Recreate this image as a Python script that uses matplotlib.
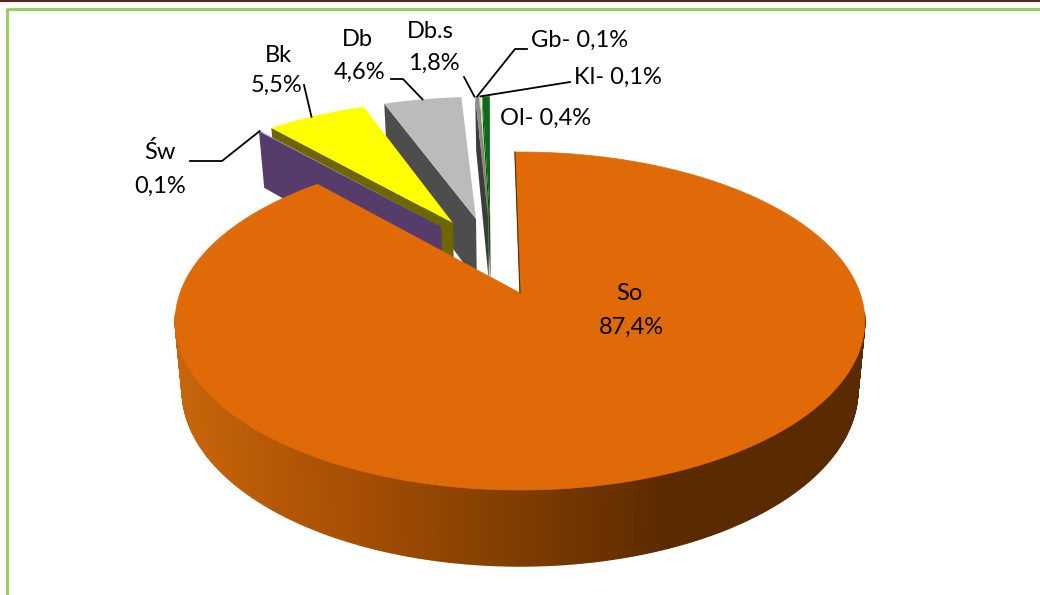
import numpy as np
import matplotlib
matplotlib.use('Agg')
import matplotlib.pyplot as plt
from matplotlib.colors import LinearSegmentedColormap

plt.rcParams['font.family'] = ['Lato', 'DejaVu Sans']

names = ['So', 'Św', 'Bk', 'Db', 'Db.s', 'Gb', 'Kl', 'Ol']
values = [87.4, 0.1, 5.5, 4.6, 1.8, 0.1, 0.1, 0.4]
value_labels = ['87,4%', '0,1%', '5,5%', '4,6%', '1,8%', '0,1%', '0,1%', '0,4%']

top_colors = ['#E06A07', '#B08FD0', '#FFFF00', '#BBBBBB', '#FFFFFF', '#8C8C8C', '#DDE5A0', '#0B6A1A']
side_colors = ['#5A2A00', '#563C6B', '#6E6600', '#4D4D4D', '#FFFFFF', '#3C3C3C', '#7A7F50', '#0A4A12']
layer = [20, 9, 8, 7, 1, 5, 4, 3]

# perspective of the disc, fitted to the reference
cx, y0, A, k, p = 520, 293, 340, -0.1657, 115.8
explode = 0.24
back_lift = 0.03


def project(u, v, z=0.0):
    u = np.asarray(u, dtype=float)
    v = np.asarray(v, dtype=float)
    w = 1 + k * v
    x = cx + A * u / w * (1 - 0.02 * z)
    y = (y0 + p * v) / w + z * (67 + 9 * v)
    return x, y


def warp(t):
    # 3D view distorts the angles at the back of the pie
    t = np.asarray(t, dtype=float)
    return np.interp(t, [0, 314.64, 315, 334.8, 351.36, 357.84, 358.2, 358.56, 360],
                     [-1, 318, 318.3, 339.3, 355.7, 356.4, 357.2, 357.5, 359.1])


def direction(t):
    r = np.radians(warp(t))
    return np.sin(r), -np.cos(r)


starts = np.cumsum([0] + values[:-1]) * 3.6
sweeps = np.array(values) * 3.6
mids = starts + sweeps / 2


def offset(i):
    if i == 0:
        return 0.0, 0.0
    a = direction(mids[i])
    b = direction(mids[0])
    return explode * (a[0] - b[0]), explode * (a[1] - b[1]) - back_lift


fig = plt.figure(figsize=(10.4, 5.95), dpi=100)
ax = fig.add_axes([0, 0, 1, 1])
ax.set_xlim(0, 1040)
ax.set_ylim(595, 0)
ax.axis('off')

# frame
ax.plot([0, 1040], [0.5, 0.5], color='#5E1F1F', lw=1.5)
ax.plot([6.5, 6.5, 1040], [595, 8.5, 8.5], color='#92D050', lw=2)

wall_cmap = LinearSegmentedColormap.from_list('wall', [(0, '#C7650B'), (0.2, '#AE5304'), (0.5, '#7F3C02'),
                                                       (0.72, '#5A2A00'), (1, '#5A2A00')])


def wedge(i):
    ou, ov = offset(i)
    t = np.linspace(starts[i], starts[i] + sweeps[i], max(3, int(sweeps[i]) * 2))
    du, dv = direction(t)
    ru, rv = du + ou, dv + ov

    if i == 0:
        # outer wall, shaded strip by strip, front part only
        for j in range(len(t) - 1):
            if rv[j:j + 2].mean() < 0.12:
                continue
            x1, y1 = project(ru[j:j + 2], rv[j:j + 2], 0)
            x2, y2 = project(ru[j:j + 2], rv[j:j + 2], 1)
            c = wall_cmap((x1.mean() - 177) / 689)
            ax.fill(np.r_[x1, x2[::-1]], np.r_[y1, y2[::-1]], color=c, lw=1, zorder=layer[i] - 2)
    else:
        # left radial wall, the only one the viewer sees
        x1, y1 = project([ou, ru[0]], [ov, rv[0]], 0)
        x2, y2 = project([ou, ru[0]], [ov, rv[0]], 1)
        ax.fill(np.r_[x1, x2[::-1]], np.r_[y1, y2[::-1]], color=side_colors[i], lw=0, zorder=layer[i])

    x, y = project(np.r_[ou, ru], np.r_[ov, rv], 0)
    ax.fill(x, y, color=top_colors[i], lw=0.5 if i == 0 else 0, zorder=layer[i] + 0.5)
    if i == 0:
        ax.plot(x[:2], y[:2], color='#5A2A00', lw=0.8, zorder=layer[i] + 1)


for i in range(len(values)):
    wedge(i)


def rim_point(i, frac=0.5):
    ou, ov = offset(i)
    du, dv = direction(starts[i] + sweeps[i] * frac)
    x, y = project(du + ou, dv + ov)
    return float(x), float(y)


# leader lines, from label elbow to the wedge rim
elbows = {1: [(190, 161), (222, 161)], 2: [(304, 85)], 3: [(391, 79), (403, 79)],
          4: [(464, 77)], 5: [(527, 49), (515, 49)], 6: [(570, 82)]}
leader_frac = {2: 0.45, 4: 1.0}
for i, pts in elbows.items():
    xy = np.array(pts + [rim_point(i, leader_frac.get(i, 0.5))])
    ax.plot(xy[:, 0], xy[:, 1], color='black', lw=1.3, zorder=30)

fs = 17
ax.text(629, 293, names[0], fontsize=fs, ha='center', va='center', zorder=40)
ax.text(631, 327, value_labels[0], fontsize=fs, ha='center', va='center', zorder=40)
ax.text(160, 152, names[1], fontsize=fs, ha='center', va='center')
ax.text(160, 186, value_labels[1], fontsize=fs, ha='center', va='center')
ax.text(278, 55, names[2], fontsize=fs, ha='center', va='center')
ax.text(277, 85, value_labels[2], fontsize=fs, ha='center', va='center')
ax.text(357, 39, names[3], fontsize=fs, ha='center', va='center')
ax.text(360, 72, value_labels[3], fontsize=fs, ha='center', va='center')
ax.text(430, 32, names[4], fontsize=fs, ha='center', va='center')
ax.text(434, 63, value_labels[4], fontsize=fs, ha='center', va='center')
ax.text(580, 40, names[5] + '- ' + value_labels[5], fontsize=fs, ha='center', va='center')
ax.text(618, 77, names[6] + '- ' + value_labels[6], fontsize=fs, ha='center', va='center')
ax.text(546, 118, names[7] + '- ' + value_labels[7], fontsize=fs, ha='center', va='center')

fig.savefig('out.png', dpi=100)
